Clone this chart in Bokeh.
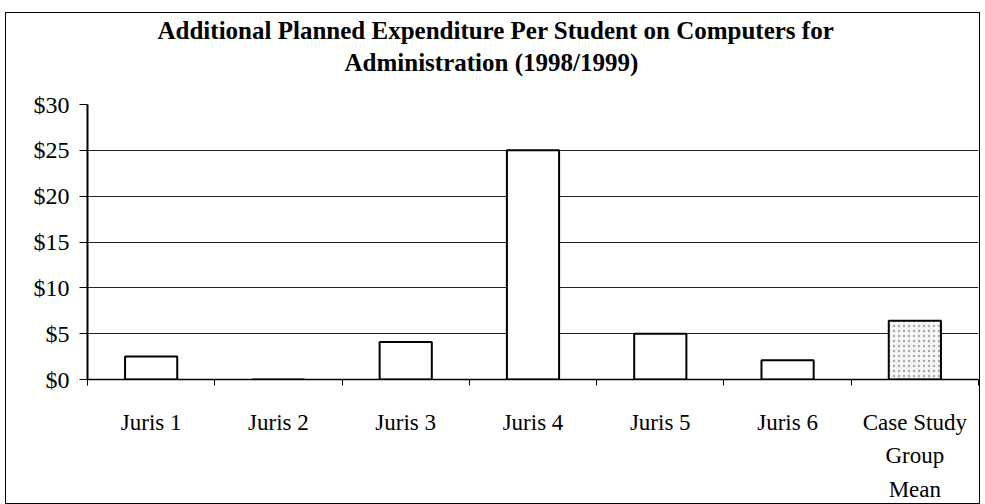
from bokeh.plotting import figure
from bokeh.models import FixedTicker, Range1d, ColumnDataSource, Title
from bokeh.embed import file_html
from bokeh.resources import INLINE

categories = ["Juris 1", "Juris 2", "Juris 3", "Juris 4", "Juris 5", "Juris 6", "Case Study\nGroup\nMean"]
values = [2.5, 0.0, 4.1, 25.0, 5.0, 2.1, 6.4]
y_ticks = [0, 5, 10, 15, 20, 25, 30]
y_labels = ["$0", "$5", "$10", "$15", "$20", "$25", "$30"]
title_lines = ["Additional Planned Expenditure Per Student on Computers for",
               "Administration (1998/1999)"]

FONT = "Liberation Serif"
n = len(categories)
centers = [i + 0.5 for i in range(n)]

p = figure(width=975, height=492, output_backend="svg", toolbar_location=None,
           x_range=Range1d(0, n), y_range=Range1d(0, 30),
           min_border_left=81, min_border_right=3, min_border_top=91, min_border_bottom=126)

# spacer between the plot frame and the title block
p.add_layout(Title(text=" ", text_font=FONT, text_font_size="20px", standoff=3), "above")
# title lines (last added is topmost); left-aligned with offsets to centre them over the figure
for line, off in zip(reversed(title_lines), [257, 70]):
    p.add_layout(Title(text=line, align="left", offset=off, standoff=3,
                       text_font=FONT, text_font_size="25px", text_font_style="bold",
                       text_color="black"), "above")

normal = dict(x=centers[:-1], top=values[:-1])
mean = dict(x=centers[-1:], top=values[-1:])
p.vbar(x="x", top="top", bottom=0, width=0.41, source=ColumnDataSource(normal),
       fill_color="white", line_color="black", line_width=2)
p.vbar(x="x", top="top", bottom=0, width=0.41, source=ColumnDataSource(mean),
       fill_color="#f6f6f6", line_color="black", line_width=2,
       hatch_pattern="dot", hatch_color="#aaaaaa", hatch_scale=5, hatch_weight=1)

p.xaxis.ticker = FixedTicker(ticks=centers, minor_ticks=list(range(n + 1)))
p.xaxis.major_label_overrides = {c: lab for c, lab in zip(centers, categories)}
p.xaxis.major_tick_line_color = None
p.xaxis.major_tick_in = 0
p.xaxis.major_tick_out = 0
p.xaxis.minor_tick_in = 0
p.xaxis.minor_tick_out = 6
p.xaxis.minor_tick_line_color = "black"
p.xaxis.axis_line_color = "black"
p.xaxis.axis_line_width = 1.5
p.xaxis.major_label_text_font = FONT
p.xaxis.major_label_text_font_size = "23px"
p.xaxis.major_label_text_color = "black"
p.xaxis.major_label_standoff = 24
p.xaxis.major_label_text_line_height = 1.35

p.yaxis.ticker = FixedTicker(ticks=y_ticks, minor_ticks=[])
p.yaxis.major_label_overrides = {t: lab for t, lab in zip(y_ticks, y_labels)}
p.yaxis.major_tick_in = 0
p.yaxis.major_tick_out = 8
p.yaxis.major_tick_line_color = "black"
p.yaxis.axis_line_color = "black"
p.yaxis.axis_line_width = 2
p.yaxis.major_label_text_font = FONT
p.yaxis.major_label_text_font_size = "24px"
p.yaxis.major_label_text_color = "black"
p.yaxis.major_label_standoff = 10

p.xgrid.grid_line_color = None
p.ygrid.grid_line_color = "#222222"
p.ygrid.grid_line_width = 1.2
p.ygrid.ticker = FixedTicker(ticks=y_ticks)

p.outline_line_color = None
p.styles = {"border": "1px solid black", "margin-left": "5px", "margin-top": "12px"}

open("out.html", "w").write(file_html(p, INLINE))
